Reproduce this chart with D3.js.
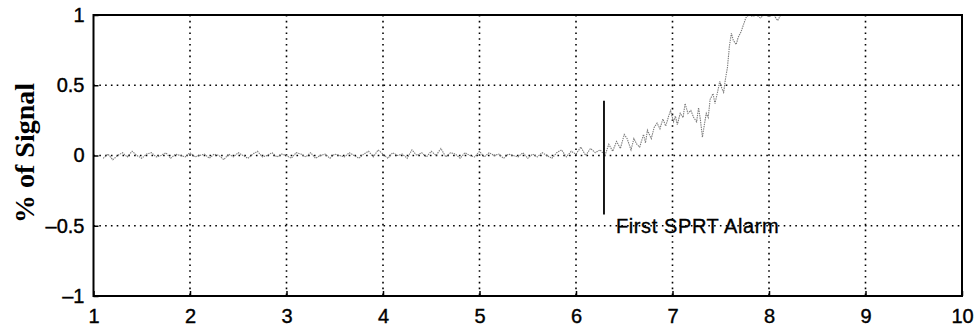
<!DOCTYPE html>
<html>
<head>
<meta charset="utf-8">
<script src="https://cdn.jsdelivr.net/npm/d3@7/dist/d3.min.js"></script>
<style>
  html, body { margin: 0; padding: 0; background: #fff; }
  svg { display: block; }
</style>
</head>
<body>
<svg id="chart" width="977" height="330"></svg>
<script>
// Signal trace: [time, % of signal]
const baseline = [
  [1.10,-0.02],[1.15,0.01],[1.20,-0.03],[1.25,0.00],[1.30,0.02],[1.35,-0.01],[1.40,0.03],[1.45,0.00],
  [1.50,-0.02],[1.55,0.01],[1.60,0.02],[1.65,-0.01],[1.70,0.00],[1.75,0.02],[1.80,-0.02],[1.85,0.01],
  [1.90,0.00],[1.95,-0.01],[2.00,0.02],[2.05,-0.01],[2.10,0.00],[2.15,0.01],[2.20,-0.02],[2.25,0.01],
  [2.30,0.00],[2.35,-0.03],[2.40,0.01],[2.45,-0.01],[2.50,0.02],[2.55,0.00],[2.60,-0.02],[2.65,0.01],
  [2.70,0.03],[2.75,-0.01],[2.80,0.00],[2.85,0.02],[2.90,-0.01],[2.95,0.01],[3.00,0.00],[3.05,-0.02],
  [3.10,0.02],[3.15,0.01],[3.20,-0.01],[3.25,0.02],[3.30,-0.02],[3.35,0.00],[3.40,0.01],[3.45,-0.02],
  [3.50,0.01],[3.55,0.00],[3.60,-0.01],[3.65,0.02],[3.70,0.00],[3.75,-0.02],[3.80,0.01],[3.85,0.03],
  [3.90,-0.01],[3.95,0.04],[4.00,0.01],[4.05,-0.02],[4.10,0.02],[4.15,0.00],[4.20,0.01],[4.25,-0.02],
  [4.30,0.04],[4.35,0.00],[4.40,0.02],[4.45,-0.01],[4.50,0.03],[4.55,0.00],[4.60,0.05],[4.65,-0.01],
  [4.70,0.02],[4.75,0.01],[4.80,-0.02],[4.85,0.02],[4.90,0.00],[4.95,-0.01],[5.00,0.03],[5.05,-0.01],
  [5.10,0.02],[5.15,0.00],[5.20,0.01],[5.25,-0.02],[5.30,0.01],[5.35,0.00],[5.40,-0.01],[5.45,0.02],
  [5.50,-0.02],[5.55,0.01],[5.60,-0.01],[5.65,0.02],[5.70,0.00],[5.75,-0.02],[5.80,0.02],[5.85,0.04],
  [5.90,-0.01],[5.95,0.03],[6.00,0.01],[6.05,0.06],[6.10,0.00],[6.15,0.05],[6.20,0.02],[6.25,0.04]
];
const drift = [
  [6.30,0.00],[6.34,0.08],[6.38,0.03],[6.42,0.10],[6.46,0.05],[6.50,0.15],[6.53,0.12],[6.57,0.04],
  [6.60,0.12],[6.63,0.08],[6.66,0.06],[6.70,0.15],[6.72,0.09],[6.74,0.18],[6.78,0.12],[6.81,0.20],
  [6.84,0.23],[6.87,0.19],[6.90,0.26],[6.93,0.21],[6.96,0.28],[6.98,0.32],[7.01,0.24],[7.03,0.28],
  [7.05,0.22],[7.08,0.30],[7.11,0.27],[7.13,0.37],[7.16,0.30],[7.19,0.32],[7.22,0.27],[7.25,0.24],
  [7.27,0.34],[7.29,0.25],[7.31,0.13],[7.33,0.22],[7.35,0.30],[7.37,0.27],[7.39,0.40],[7.42,0.44],
  [7.44,0.37],[7.47,0.46],[7.49,0.53],[7.51,0.48],[7.53,0.45],[7.55,0.55],[7.57,0.63],[7.59,0.78],
  [7.61,0.87],[7.63,0.82],[7.66,0.79],[7.68,0.84],[7.71,0.88],[7.73,0.92],[7.76,0.98],[7.79,1.00],
  [7.83,0.99],[7.87,1.00],[7.91,0.98],[7.95,1.00],[8.00,0.99],[8.05,1.00],[8.09,0.96],[8.12,1.00]
];
const xTicks = [1, 2, 3, 4, 5, 6, 7, 8, 9, 10];
const yTicks = [-1, -0.5, 0, 0.5, 1];
const yTickLabels = ["\u20131", "\u20130.5", "0", "0.5", "1"];
const alarmTime = 6.29;
const alarmSpan = [-0.42, 0.39];
const alarmLabel = "First SPRT Alarm";
const yTitle = "% of Signal";

const svg = d3.select("#chart");
const m = { left: 93.5, right: 962, top: 15, bottom: 296 };

const x = d3.scaleLinear().domain([1, 10]).range([m.left, m.right]);
const y = d3.scaleLinear().domain([-1, 1]).range([m.bottom, m.top]);

// dotted grid
const grid = svg.append("g").attr("stroke", "#000").attr("stroke-width", 1.6)
  .attr("stroke-dasharray", "1.6,4.2");
grid.selectAll("line.gx").data(xTicks.slice(1, -1)).join("line")
  .attr("x1", d => x(d)).attr("x2", d => x(d)).attr("y1", m.top).attr("y2", m.bottom);
grid.selectAll("line.gy").data(yTicks.slice(1, -1)).join("line")
  .attr("x1", m.left).attr("x2", m.right).attr("y1", d => y(d)).attr("y2", d => y(d));

// signal trace (fine dotted grey)
const line = d3.line().x(d => x(d[0])).y(d => y(Math.min(1, d[1])));
svg.append("path").datum(baseline.concat(drift))
  .attr("d", line).attr("fill", "none")
  .attr("stroke", "#7a7a7a").attr("stroke-width", 1.1)
  .attr("stroke-dasharray", "1.4,0.9");

// alarm marker
svg.append("line")
  .attr("x1", x(alarmTime)).attr("x2", x(alarmTime))
  .attr("y1", y(alarmSpan[0])).attr("y2", y(alarmSpan[1]))
  .attr("stroke", "#000").attr("stroke-width", 1.8);
svg.append("text").attr("x", x(alarmTime) + 12).attr("y", y(-0.5) + 7.5)
  .attr("font-family", "Liberation Sans, Arial, sans-serif").attr("font-size", 20)
  .attr("letter-spacing", 0.6)
  .attr("stroke", "#000").attr("stroke-width", 0.35)
  .text(alarmLabel);

// axes
const fontTicks = "Liberation Sans, Arial, sans-serif";
const xAxis = d3.axisBottom(x).tickValues(xTicks).tickSize(-5).tickPadding(13).tickFormat(d3.format("d"));
const gx = svg.append("g").attr("transform", `translate(0,${m.bottom})`).call(xAxis);
const yAxis = d3.axisLeft(y).tickValues(yTicks).tickSize(-5).tickPadding(9)
  .tickFormat((d, i) => yTickLabels[i]);
const gy = svg.append("g").attr("transform", `translate(${m.left},0)`).call(yAxis);
[gx, gy].forEach(g => {
  g.select(".domain").remove();
  g.selectAll(".tick line").attr("stroke", "#000").attr("stroke-width", 1.5);
  g.selectAll(".tick text").attr("fill", "#000").attr("font-family", fontTicks)
    .attr("font-size", 20).attr("stroke", "#000").attr("stroke-width", 0.4);
});

// frame
svg.append("rect").attr("x", m.left).attr("y", m.top)
  .attr("width", m.right - m.left).attr("height", m.bottom - m.top)
  .attr("fill", "none").attr("stroke", "#000").attr("stroke-width", 2);

// y-axis title
svg.append("text")
  .attr("transform", `translate(34,153) rotate(-90)`)
  .attr("text-anchor", "middle")
  .attr("font-family", "Liberation Serif, Times New Roman, serif")
  .attr("font-size", 28).attr("font-weight", "bold")
  .text(yTitle);
</script>
</body>
</html>
